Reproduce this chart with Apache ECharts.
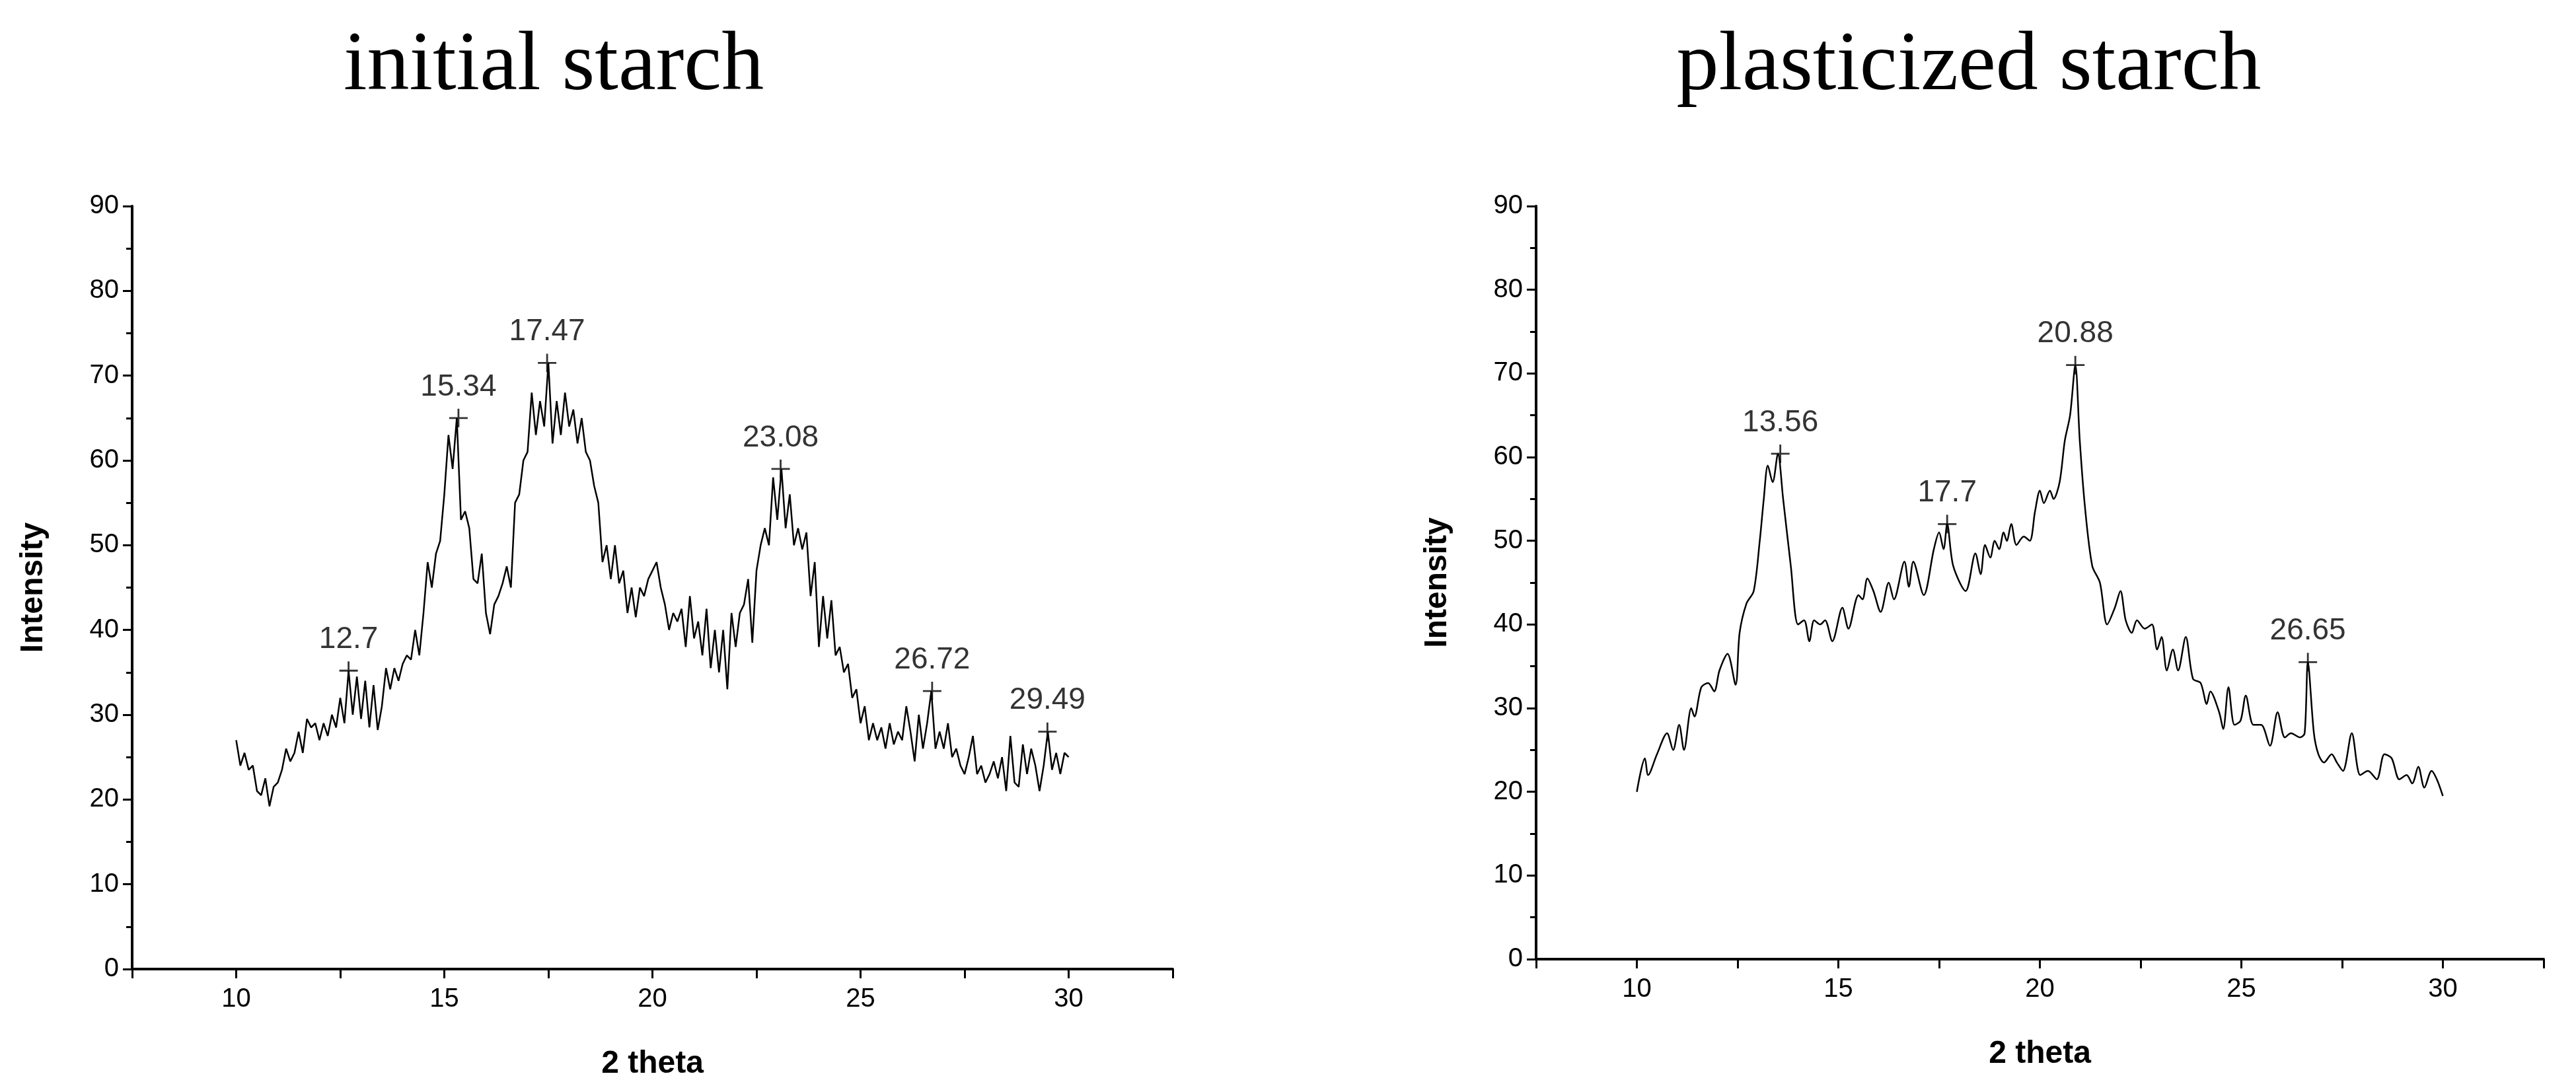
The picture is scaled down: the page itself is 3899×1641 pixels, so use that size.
<!DOCTYPE html>
<html lang="en">
<head>
<meta charset="UTF-8">
<title>XRD starch</title>
<script src="https://cdn.jsdelivr.net/npm/echarts@6/dist/echarts.min.js"></script>
</head>
<body style="margin:0">
<div id="main" style="width:3899px;height:1641px;"></div>
<script>
  // initial starch, intensity every 0.1 deg from 10.0 to 30.0
  const initialStart = 10, initialStep = 0.1;
  const initialY = [
    27,24,25.5,23.5,24,21,20.5,22.5,19.2,21.5,
    22,23.5,26,24.5,25.5,28,25.5,29.5,28.5,29,
    27,29,27.5,30,28.5,32,29,35.2,30,34.5,
    29.5,34,28.5,33.5,28.2,31,35.5,33,35.5,34,
    36,37,36.5,40,37,42,48,45,49,50.5,
    56,63,59,65,53,54,52,46,45.5,49,
    42,39.5,43,44,45.5,47.5,45,55,56,60,
    61,68,63,67,64,71.5,62,67,63,68,
    64,66,62,65,61,60,57,55,48,50,
    46,50,45.5,47,42,45,41.5,45,44,46,
    47,48,45,43,40,42,41,42.5,38,44,
    39,41,37,42.5,35.5,40,35,40,33,42,
    38,42,43,46,38.5,47,50,52,50,58,
    53,59,52,56,50,52,49.5,51.5,44,48,
    38,44,39,43.5,37,38,35,36,32,33,
    29,31,27,29,27,28.5,26,29,26.5,28,
    27,31,28,24.5,30,26,29,32.8,26,28,
    26,29,25,26,24,23,25,27.5,23,24,
    22,23,24.5,22.5,25,21,27.5,22,21.5,26.5,
    23,26,24,21,24,28,23.5,25.5,23,25.5,
    25
  ];
  const initialData = initialY.map((v, i) => [+(initialStart + i * initialStep).toFixed(1), v]);
  const initialPeaks = [[12.7, 35.2], [15.34, 65], [17.47, 71.5], [23.08, 59], [26.72, 32.8], [29.49, 28]];

  // plasticized starch, [2 theta, intensity]
  const plastData = [
    [10.0,20],[10.2,24],[10.28,22],[10.5,24.5],[10.75,27],[10.9,25],[11.05,28],[11.17,25],
    [11.35,30],[11.43,29],[11.6,32.5],[11.77,33],[11.92,32],[12.05,34.5],[12.25,36.5],
    [12.45,32.8],[12.55,39],[12.72,42.5],[12.9,44],[13.05,50],[13.15,55],[13.25,59],
    [13.37,57],[13.5,60.4],[13.63,55],[13.82,47],[14.0,40],[14.15,40.5],[14.28,38],
    [14.4,40.5],[14.55,40],[14.67,40.5],[14.85,38],[15.1,42],[15.25,39.5],[15.5,43.5],
    [15.6,43],[15.72,45.5],[15.87,44],[16.05,41.5],[16.25,45],[16.38,43],[16.64,47.5],
    [16.75,44.5],[16.86,47.5],[17.12,43.5],[17.37,49],[17.5,51],[17.61,49],[17.7,52],
    [17.85,47],[18.16,44],[18.4,48.5],[18.53,46],[18.64,49.5],[18.77,48],[18.88,50],
    [18.99,49],[19.1,51],[19.18,50],[19.29,52],[19.42,49.5],[19.6,50.5],[19.75,50],
    [19.88,53.5],[20.0,56],[20.1,54.5],[20.25,56],[20.34,55],[20.49,57],[20.62,62],
    [20.75,65],[20.88,71],[20.99,62],[21.12,54],[21.3,47],[21.49,45],[21.67,40],
    [21.86,42],[22.0,44],[22.13,40.5],[22.28,39],[22.41,40.5],[22.6,39.5],[22.78,40],
    [22.91,37],[23.02,38.5],[23.15,34.5],[23.3,37],[23.43,34.5],[23.62,38.5],[23.8,33.5],
    [23.99,33],[24.14,30.5],[24.23,32],[24.45,29.5],[24.55,27.5],[24.68,32.5],[24.83,28],
    [24.98,28.5],[25.11,31.5],[25.3,28],[25.49,28],[25.71,25.5],[25.9,29.5],[26.08,26.5],
    [26.23,27],[26.46,26.5],[26.57,27],[26.65,35.5],[26.8,27],[26.91,24.5],[27.05,23.5],
    [27.24,24.5],[27.37,23.5],[27.52,22.5],[27.74,27],[27.95,22],[28.14,22.5],[28.36,21.5],
    [28.55,24.5],[28.73,24],[28.92,21.5],[29.1,22],[29.24,21],[29.39,23],[29.54,20.5],
    [29.72,22.5],[29.85,21.5],[30.0,19.5]
  ];
  const plastPeaks = [[13.56, 60.4], [17.7, 52], [20.88, 71], [26.65, 35.5]];

  const titles = ['initial starch', 'plasticized starch'];
  const plus = 'path://M4.5,0h1v10h-1zM0,4.5h10v1h-10z';
  const font = 'Liberation Sans';

  function xAxis(idx) {
    return {
      gridIndex: idx, type: 'value', min: 7.5, max: 32.5, interval: 2.5,
      name: '2 theta', nameLocation: 'middle', nameGap: 120,
      nameTextStyle: { fontFamily: font, fontSize: 48, fontWeight: 'bold', color: '#000' },
      axisLine: { lineStyle: { color: '#000', width: 4 } },
      axisTick: { inside: false, length: 14, lineStyle: { color: '#000', width: 3 } },
      axisLabel: { fontFamily: font, fontSize: 40, color: '#000', margin: 26,
        formatter: v => (v % 5 === 0 && v > 8 && v < 32) ? String(v) : '' },
      splitLine: { show: false }
    };
  }
  function yAxis(idx) {
    return {
      gridIndex: idx, type: 'value', min: 0, max: 90, interval: 10,
      name: 'Intensity', nameLocation: 'middle', nameGap: 125,
      nameTextStyle: { fontFamily: font, fontSize: 48, fontWeight: 'bold', color: '#000' },
      axisLine: { show: true, lineStyle: { color: '#000', width: 4 } },
      axisTick: { show: true, length: 14, lineStyle: { color: '#000', width: 3 } },
      minorTick: { show: true, splitNumber: 2, length: 9, lineStyle: { color: '#000', width: 3 } },
      axisLabel: { fontFamily: font, fontSize: 40, color: '#000', margin: 20 },
      splitLine: { show: false }
    };
  }
  function peaks(idx, data) {
    return {
      type: 'scatter', xAxisIndex: idx, yAxisIndex: idx, data: data,
      symbol: plus, symbolSize: 28, itemStyle: { color: '#000' },
      label: { show: true, position: 'top', distance: 10, fontFamily: font, fontSize: 46, color: '#000',
        formatter: p => String(p.value[0]) },
      z: 5
    };
  }

  const myChart = echarts.init(document.getElementById('main'));
  myChart.setOption({
    animation: false,
    backgroundColor: '#fff',
    title: [
      { text: titles[0], left: 833, top: 32, textAlign: 'center',
        textStyle: { fontFamily: 'Liberation Serif', fontSize: 128, fontWeight: 'normal', color: '#000' } },
      { text: titles[1], left: 2975, top: 32, textAlign: 'center',
        textStyle: { fontFamily: 'Liberation Serif', fontSize: 128, fontWeight: 'normal', color: '#000' } }
    ],
    grid: [
      { left: 200, top: 312, width: 1575, bottom: 174 },
      { left: 2325, top: 312, width: 1525, bottom: 189 }
    ],
    xAxis: [xAxis(0), xAxis(1)],
    yAxis: [yAxis(0), yAxis(1)],
    series: [
      { type: 'line', xAxisIndex: 0, yAxisIndex: 0, data: initialData, showSymbol: false,
        lineStyle: { color: '#000', width: 2.5 } },
      { type: 'line', xAxisIndex: 1, yAxisIndex: 1, data: plastData, showSymbol: false, smooth: 0.3,
        lineStyle: { color: '#000', width: 2.5 } },
      peaks(0, initialPeaks),
      peaks(1, plastPeaks)
    ]
  });
</script>
</body>
</html>
